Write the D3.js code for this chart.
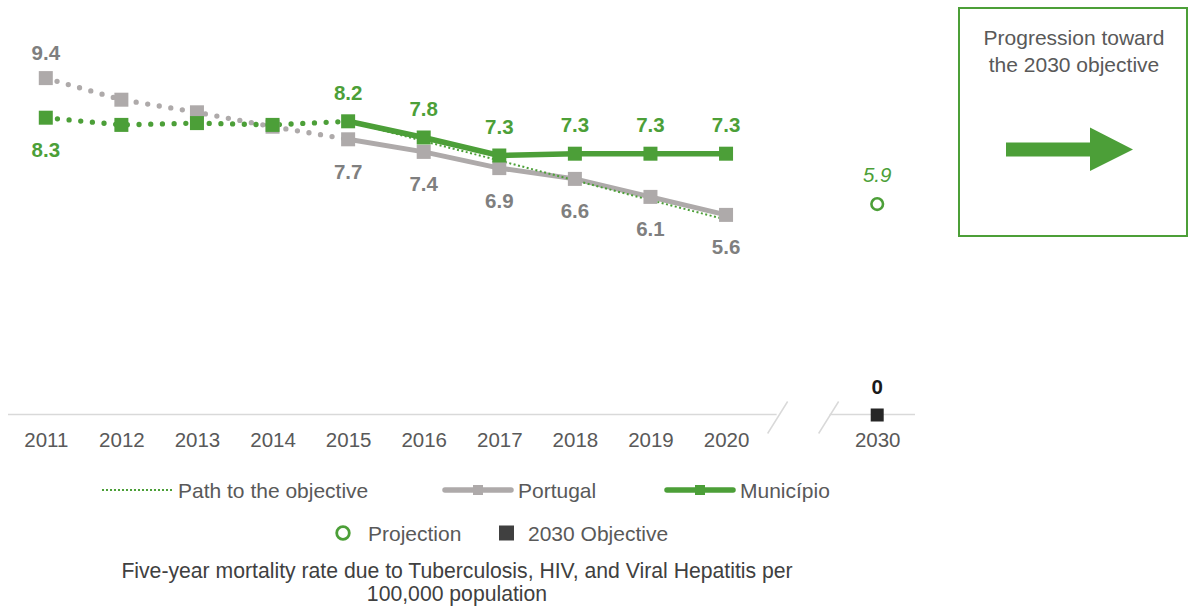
<!DOCTYPE html>
<html><head><meta charset="utf-8">
<script src="https://cdn.jsdelivr.net/npm/d3@7"></script>
<style>
body{margin:0;background:#fff;}
svg{font-family:"Liberation Sans",Arial,sans-serif;}
</style></head><body>
<svg id="c" width="1188" height="607"></svg>
<script>
// ---- data ----
const categories = ["2011","2012","2013","2014","2015","2016","2017","2018","2019","2020","gap","2030"];
const tickLabels = ["2011","2012","2013","2014","2015","2016","2017","2018","2019","2020","2030"];
const years = ["2011","2012","2013","2014","2015","2016","2017","2018","2019","2020"];
const portugal = [9.4, 8.8, 8.45, 8.05, 7.7, 7.35, 6.9, 6.6, 6.1, 5.6];
const municipio = [8.3, 8.1, 8.15, 8.1, 8.2, 7.75, 7.25, 7.3, 7.3, 7.3];
const portugalLabelYears = ["2011","2015","2016","2017","2018","2019","2020"];
const municipioLabelYears = ["2011","2015","2016","2017","2018","2019","2020"];
const portugalLabels = ["9.4","7.7","7.4","6.9","6.6","6.1","5.6"];
const municipioLabels = ["8.3","8.2","7.8","7.3","7.3","7.3","7.3"];
const pathYears = ["2015","2016","2017","2018","2019","2020"];
const pathValues = [8.2, 7.65, 7.11, 6.56, 6.01, 5.47];
const projectionYear = "2030", projectionValue = 5.9;
const objectiveYear = "2030", objectiveValue = 0;
const legendRow1 = ["Path to the objective","Portugal","Município"];
const legendRow2 = ["Projection","2030 Objective"];
const captionLines = ["Five-year mortality rate due to Tuberculosis, HIV, and Viral Hepatitis per","100,000 population"];
const boxLines = ["Progression toward","the 2030 objective"];

// ---- style ----
const GREEN = "#4c9f38", GREY = "#aeaaaa", GREYTXT = "#7f7f7f", TXT = "#595959", AX = "#d9d9d9";

const svg = d3.select("#c");
const x = d3.scalePoint().domain(categories).range([8, 915]).padding(0.5);
const y = d3.scaleLinear().domain([0, 10]).range([416.5, 56.5]);

// axis
const y0 = y(0) - 2;
const gx = svg.append("g").attr("transform", `translate(0,${y0})`)
  .call(d3.axisBottom(x).tickValues(tickLabels).tickSize(0).tickPadding(18));
gx.select(".domain").remove();
gx.selectAll("text").attr("font-size", 20.5).attr("fill", TXT).attr("font-family", "Liberation Sans, Arial, sans-serif");
const gapX = x("gap");
svg.append("line").attr("x1", 8).attr("x2", gapX - 25).attr("y1", y0).attr("y2", y0).attr("stroke", AX).attr("stroke-width", 1.5);
svg.append("line").attr("x1", gapX + 28).attr("x2", 915).attr("y1", y0).attr("y2", y0).attr("stroke", AX).attr("stroke-width", 1.5);
[-24, 27].forEach(d => {
  svg.append("line").attr("x1", gapX + d + 10).attr("y1", y0 - 13).attr("x2", gapX + d - 10).attr("y2", y0 + 19)
    .attr("stroke", AX).attr("stroke-width", 1.5);
});

const line = d3.line().x(d => x(d[0])).y(d => y(d[1]));
function series(vals, color, w) {
  const pts = years.map((yr, i) => [yr, vals[i]]);
  const dotted = pts.slice(0, 5), solid = pts.slice(4);
  svg.append("path").attr("d", line(dotted)).attr("fill", "none").attr("stroke", color)
    .attr("stroke-width", 5.3).attr("stroke-linecap", "round").attr("stroke-dasharray", "0 11.7");
  svg.append("path").attr("d", line(solid)).attr("fill", "none").attr("stroke", color)
    .attr("stroke-width", w).attr("stroke-linejoin", "round");
  return pts;
}
const pP = series(portugal, GREY, 5);
const pM = series(municipio, GREEN, 5.5);

// path to objective
svg.append("path").attr("d", line(pathYears.map((yr, i) => [yr, pathValues[i]])))
  .attr("fill", "none").attr("stroke", GREEN).attr("stroke-width", 2).attr("stroke-dasharray", "2 2.5");

function markers(pts, color) {
  svg.append("g").selectAll("rect").data(pts).join("rect")
    .attr("x", d => x(d[0]) - 7).attr("y", d => y(d[1]) - 7).attr("width", 14).attr("height", 14).attr("fill", color);
}
markers(pP, GREY);
markers(pM, GREEN);

// labels
function labels(vals, yrs, texts, color, offsetFn) {
  svg.append("g").selectAll("text").data(yrs).join("text")
    .attr("x", d => x(d)).attr("y", d => y(vals[years.indexOf(d)]) + offsetFn(d))
    .attr("text-anchor", "middle").attr("dominant-baseline", "central")
    .attr("font-size", 20.5).attr("font-weight", "bold").attr("fill", color)
    .text((d, i) => texts[i]);
}
labels(portugal, portugalLabelYears, portugalLabels, GREYTXT, d => d === "2011" ? -26 : 32);
labels(municipio, municipioLabelYears, municipioLabels, GREEN, d => d === "2011" ? 32 : -29);

// projection
svg.append("circle").attr("cx", x(projectionYear)).attr("cy", y(projectionValue)).attr("r", 5.8)
  .attr("fill", "#fff").attr("stroke", GREEN).attr("stroke-width", 2.6);
svg.append("text").attr("x", x(projectionYear)).attr("y", y(projectionValue) - 30).attr("dominant-baseline", "central")
  .attr("text-anchor", "middle").attr("font-size", 20.5).attr("font-style", "italic").attr("fill", GREEN).text(d3.format(".1f")(projectionValue));
// objective
svg.append("rect").attr("x", x(objectiveYear) - 6.5).attr("y", y(objectiveValue) - 8).attr("width", 13).attr("height", 13).attr("fill", "#262626");
svg.append("text").attr("x", x(objectiveYear)).attr("y", y(objectiveValue) - 30).attr("dominant-baseline", "central")
  .attr("text-anchor", "middle").attr("font-size", 20.5).attr("font-weight", "bold").attr("fill", "#1a1a1a").text(objectiveValue);

// legend row 1
const L1 = svg.append("g").attr("font-size", 21).attr("fill", TXT);
const ly1 = 490;
L1.append("line").attr("x1", 102).attr("x2", 172).attr("y1", ly1).attr("y2", ly1).attr("stroke", GREEN).attr("stroke-width", 2).attr("stroke-dasharray", "2 2");
L1.append("text").attr("x", 178).attr("y", ly1).attr("dominant-baseline", "central").text(legendRow1[0]);
[[443, GREY, legendRow1[1]], [665, GREEN, legendRow1[2]]].forEach(([lx, c, t]) => {
  L1.append("line").attr("x1", lx + 2).attr("x2", lx + 68).attr("y1", ly1).attr("y2", ly1).attr("stroke", c).attr("stroke-width", 5.5).attr("stroke-linecap", "round");
  L1.append("rect").attr("x", lx + 35 - 5).attr("y", ly1 - 5).attr("width", 10).attr("height", 10).attr("fill", c);
  L1.append("text").attr("x", lx + 75).attr("y", ly1).attr("dominant-baseline", "central").text(t);
});
// legend row 2
const ly2 = 533;
L1.append("circle").attr("cx", 343).attr("cy", ly2).attr("r", 6.3).attr("fill", "#fff").attr("stroke", GREEN).attr("stroke-width", 2.8);
L1.append("text").attr("x", 368).attr("y", ly2).attr("dominant-baseline", "central").text(legendRow2[0]);
L1.append("rect").attr("x", 499).attr("y", ly2 - 7.5).attr("width", 15).attr("height", 15).attr("fill", "#404040");
L1.append("text").attr("x", 528).attr("y", ly2).attr("dominant-baseline", "central").text(legendRow2[1]);

// caption
svg.append("g").selectAll("text").data(captionLines).join("text")
  .attr("x", 457).attr("y", (d, i) => 570 + i * 23).attr("text-anchor", "middle").attr("dominant-baseline", "central")
  .attr("font-size", 21.2).attr("fill", "#404040").text(d => d);

// box
svg.append("rect").attr("x", 959).attr("y", 8).attr("width", 228).attr("height", 228).attr("fill", "none").attr("stroke", GREEN).attr("stroke-width", 2);
svg.append("g").selectAll("text").data(boxLines).join("text")
  .attr("x", 1074).attr("y", (d, i) => 37 + i * 27).attr("text-anchor", "middle").attr("dominant-baseline", "central")
  .attr("font-size", 21).attr("fill", TXT).text(d => d);
svg.append("path").attr("d", "M1006,142.5 L1090,142.5 L1090,127.5 L1133,149.5 L1090,171 L1090,156.5 L1006,156.5 Z").attr("fill", GREEN);
</script>
</body></html>
